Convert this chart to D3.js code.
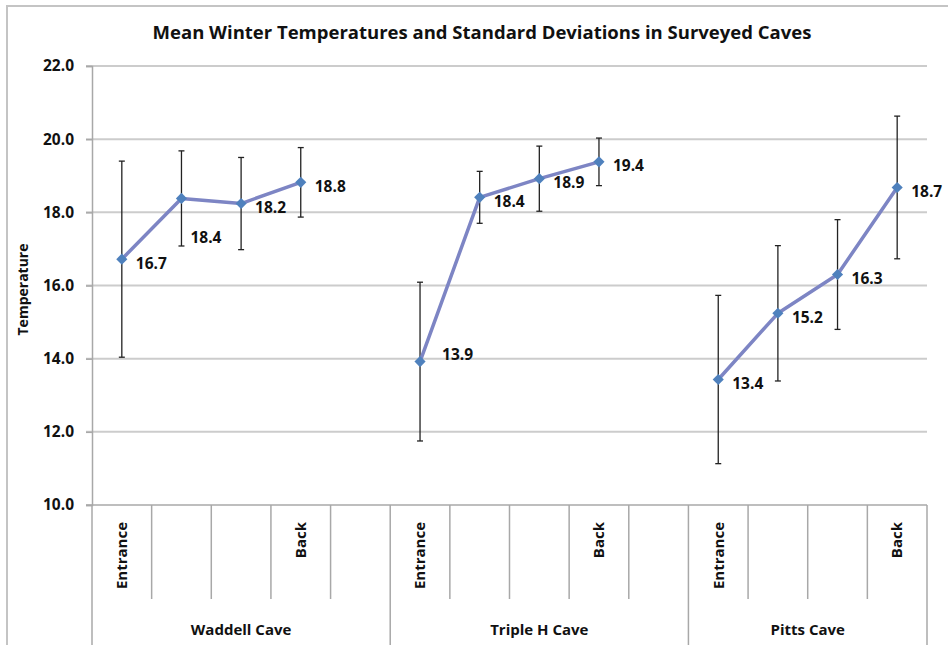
<!DOCTYPE html>
<html>
<head>
<meta charset="utf-8">
<script src="https://cdn.jsdelivr.net/npm/d3@7"></script>
<style>
  body { margin: 0; background: #fff; }
  text { font-family: "Open Sans", Lato, sans-serif; font-weight: bold; fill: #111; }
</style>
</head>
<body>
<svg id="chart" width="948" height="645"></svg>
<script>
// data
var caves = ["Waddell Cave", "Triple H Cave", "Pitts Cave"];
var slotLabels = [
    ["Entrance", "", "", "Back", ""],
    ["Entrance", "", "", "Back", ""],
    ["Entrance", "", "", "Back"]
];
var waddellMean = [16.72, 18.38, 18.24, 18.82];
var waddellSd   = [2.68, 1.30, 1.26, 0.95];
var tripleMean  = [13.92, 18.41, 18.92, 19.38];
var tripleSd    = [2.17, 0.71, 0.89, 0.65];
var pittsMean   = [13.43, 15.24, 16.30, 18.68];
var pittsSd     = [2.30, 1.85, 1.50, 1.95];
var yTicks = [10, 12, 14, 16, 18, 20, 22];

var means = [waddellMean, tripleMean, pittsMean];
var sds = [waddellSd, tripleSd, pittsSd];

// label nudges (px) where the original labels were dragged
var labelNudge = { "0-1": [9, 39], "1-0": [22, -7] };

var svg = d3.select("#chart");

// note: "top" is taken by window.top, so use plot* names
var plotLeft = 92, plotRight = 927, plotTop = 66, plotBottom = 505;

// build slot list
var slots = [];
slotLabels.forEach(function (labels, g) {
    labels.forEach(function (l, i) {
        slots.push({ id: g + "-" + i, group: g, idx: i, label: l });
    });
});

var x = d3.scaleBand().domain(slots.map(function (s) { return s.id; })).range([plotLeft, plotRight]).padding(0);
var y = d3.scaleLinear().domain([10, 22]).range([plotBottom, plotTop]);

// chart border
svg.append("rect").attr("x", 7).attr("y", 6).attr("width", 980).attr("height", 700)
    .attr("fill", "none").attr("stroke", "#c4c4c4").attr("stroke-width", 2);

// title
svg.append("text").attr("x", 482).attr("y", 39).attr("text-anchor", "middle")
    .style("font-size", "18.5px").text("Mean Winter Temperatures and Standard Deviations in Surveyed Caves");

// gridlines
svg.append("g").selectAll("line").data(yTicks).join("line")
    .attr("x1", plotLeft - 6).attr("x2", plotRight)
    .attr("y1", function (d) { return y(d); }).attr("y2", function (d) { return y(d); })
    .attr("stroke", function (d) { return d === 10 ? "#a8a8a8" : "#cccccc"; })
    .attr("stroke-width", function (d) { return d === 10 ? 1.5 : 2; });

// y axis
var yAxis = d3.axisLeft(y).tickValues(yTicks).tickSize(6).tickPadding(12).tickFormat(d3.format(".1f"));
var ya = svg.append("g").attr("transform", "translate(" + plotLeft + ",0)").call(yAxis);
ya.select(".domain").attr("stroke", "#a8a8a8").attr("stroke-width", 1.5);
ya.selectAll(".tick line").attr("stroke", "#a8a8a8").attr("stroke-width", 1.5);
ya.selectAll(".tick text").style("font-size", "15.5px").style("font-family", "'Open Sans', sans-serif").attr("fill", "#111");

svg.append("text").attr("transform", "translate(28," + ((plotTop + plotBottom) / 2 + 4) + ") rotate(-90)")
    .attr("text-anchor", "middle").style("font-size", "14px").text("Temperature");

// category separators
var bw = x.bandwidth();
slots.forEach(function (s) {
    if (s.idx === 0) return;
    var xx = x(s.id);
    svg.append("line").attr("x1", xx).attr("x2", xx).attr("y1", plotBottom).attr("y2", 599)
        .attr("stroke", "#a8a8a8").attr("stroke-width", 1.5);
});
var groupEdges = [];
caves.forEach(function (c, g) {
    groupEdges.push(x(g + "-0"));
});
groupEdges.push(plotRight);
svg.append("g").selectAll("line").data(groupEdges).join("line")
    .attr("x1", function (d) { return d; }).attr("x2", function (d) { return d; })
    .attr("y1", plotBottom).attr("y2", 660)
    .attr("stroke", "#a8a8a8").attr("stroke-width", 1.5);

// slot labels
svg.append("g").selectAll("text").data(slots.filter(function (s) { return s.label; })).join("text")
    .attr("transform", function (s) { return "translate(" + (x(s.id) + bw / 2) + ",522) rotate(-90)"; })
    .attr("text-anchor", "end").attr("dy", "0.35em").style("font-size", "15px")
    .text(function (s) { return s.label; });

// group labels
svg.append("g").selectAll("text").data(caves).join("text")
    .attr("x", function (d, g) { return (groupEdges[g] + groupEdges[g + 1]) / 2; })
    .attr("y", 635).attr("text-anchor", "middle").style("font-size", "15px")
    .text(function (d) { return d; });

// points
var pts = [];
means.forEach(function (arr, g) {
    arr.forEach(function (m, i) {
        pts.push({ g: g, i: i, mean: m, sd: sds[g][i], cx: x(g + "-" + i) + bw / 2 });
    });
});

// error bars
var eb = svg.append("g").attr("stroke", "#222").attr("stroke-width", 1.3);
pts.forEach(function (p) {
    var y1 = y(p.mean + p.sd), y2 = y(p.mean - p.sd);
    eb.append("line").attr("x1", p.cx).attr("x2", p.cx).attr("y1", y1).attr("y2", y2);
    eb.append("line").attr("x1", p.cx - 3).attr("x2", p.cx + 3).attr("y1", y1).attr("y2", y1);
    eb.append("line").attr("x1", p.cx - 3).attr("x2", p.cx + 3).attr("y1", y2).attr("y2", y2);
});

// lines per cave
var line = d3.line().x(function (p) { return p.cx; }).y(function (p) { return y(p.mean); });
caves.forEach(function (c, g) {
    svg.append("path").datum(pts.filter(function (p) { return p.g === g; }))
        .attr("d", line).attr("fill", "none").attr("stroke", "#7d85c4").attr("stroke-width", 3.5)
        .attr("stroke-linejoin", "round");
});

// markers
svg.append("g").selectAll("path").data(pts).join("path")
    .attr("d", d3.symbol(d3.symbolSquare, 62))
    .attr("transform", function (p) { return "translate(" + p.cx + "," + y(p.mean) + ") rotate(45)"; })
    .attr("fill", "#4f81bd");

// value labels
svg.append("g").selectAll("text").data(pts).join("text")
    .attr("x", function (p) { var n = labelNudge[p.g + "-" + p.i]; return p.cx + (n ? n[0] : 14); })
    .attr("y", function (p) { var n = labelNudge[p.g + "-" + p.i]; return y(p.mean) + (n ? n[1] : 4); })
    .attr("dy", "0.35em").style("font-size", "15.5px")
    .text(function (p) { return d3.format(".1f")(p.mean); });
</script>
</body>
</html>
